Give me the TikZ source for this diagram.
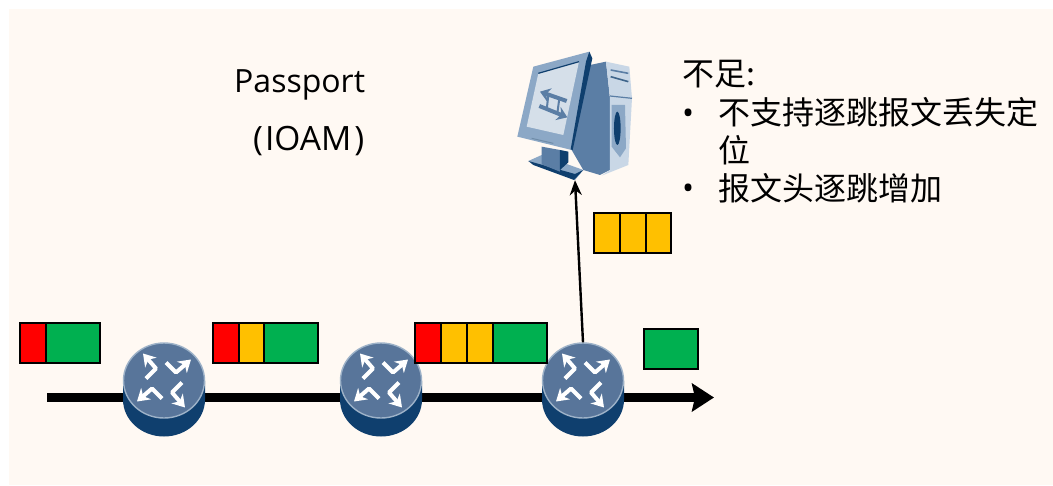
\documentclass[tikz,border=0pt]{standalone}
\usepackage{fontspec}
\setmainfont{Open Sans}
\newfontfamily\cjk{Noto Sans CJK SC}
\usetikzlibrary{arrows.meta}
\definecolor{paper}{HTML}{FFF9F3}
\definecolor{pktred}{HTML}{FF0000}
\definecolor{pktorange}{HTML}{FFC000}
\definecolor{pktgreen}{HTML}{00B050}
\definecolor{navy}{HTML}{0F3F6E}
\definecolor{slate}{HTML}{58759A}
\definecolor{rim}{HTML}{9DB2C8}
\definecolor{frame}{HTML}{8CA8C6}
\definecolor{screen}{HTML}{D5DFE9}
\definecolor{towerside}{HTML}{5B7EA5}
\definecolor{towerfront}{HTML}{C9D7E6}
\tikzset{
	seg/.style={draw=black, line width=1.5pt, outer sep=0pt, minimum height=40pt, inner sep=0pt, anchor=north west},
	redseg/.style={seg, fill=pktred, minimum width=26pt},
	orangeseg/.style={seg, fill=pktorange, minimum width=26pt},
	greenseg/.style={seg, fill=pktgreen, minimum width=54pt},
	routernode/.style={circle, minimum size=76pt, inner sep=0pt},
	label/.style={anchor=base west, inner sep=0pt, font=\fontsize{32}{38}\selectfont},
	router/.pic={
		\fill[navy] (-41,0) -- (-41,19) arc[x radius=41, y radius=37, start angle=180, end angle=0] -- (41,0) -- cycle;
		\fill[slate, draw=rim, line width=1.4pt] (0,0) ellipse[x radius=40.5, y radius=37.5];
		\foreach \rot in {0,90,180,270} {
			\draw[white, line width=4pt, line join=round, -{Stealth[length=12pt,width=15pt]}, rotate=\rot] (2,-18) -- (12,-8) -- (27,-21);
		}
	}
}
\begin{document}
\begin{tikzpicture}[x=1pt, y=-1pt]
	\useasboundingbox (0,0) rectangle (1053,485);
	\fill[paper] (9,9) rectangle (1053,485);
	% main line
	\coordinate (start) at (47,397.5);
	\coordinate (end) at (714,397.5);
	\draw[line width=8.5pt, -{Stealth[length=22pt,width=28pt,inset=3pt]}] (start) -- (end);
	% routers
	\foreach \name/\xpos in {r1/164, r2/381, r3/583} {
		\pic at (\xpos,380.5) {router};
		\node (\name)[routernode] at (\xpos,380.5) {};
	}
	% packets
	\node (a1)[redseg] at (20,323) {};
	\node (a2)[greenseg] at (46,323) {};
	\node (b1)[redseg] at (213,323) {};
	\node (b2)[orangeseg] at (239,323) {};
	\node (b3)[greenseg] at (264,323) {};
	\node (c1)[redseg] at (415,323) {};
	\node (c2)[orangeseg] at (441,323) {};
	\node (c3)[orangeseg] at (467,323) {};
	\node (c4)[greenseg] at (493,323) {};
	\node (d1)[greenseg] at (644,329) {};
	\node (e1)[orangeseg] at (594,213) {};
	\node (e2)[orangeseg] at (620,213) {};
	\node (e3)[orangeseg, minimum width=25pt] at (646,213) {};
	% computer
	\begin{scope}[shift={(500,30)}, x=0.3333pt, y=-0.3333pt]
		\fill[towerside] (270,105) -- (318,95) -- (330,205) -- (330,420) -- (300,435) -- (250,420) -- (215,360) -- cycle;
		\fill[towerfront] (318,95) -- (388,110) -- (396,205) -- (385,405) -- (305,437) -- (330,420) -- (330,205) -- cycle;
		\draw[towerside, line width=1.2pt] (330,198) -- (396,205);
		\draw[towerside, line width=1.6pt] (332,120) -- (385,130);
		\draw[navy!80, line width=1.6pt] (332,140) -- (385,155);
		\fill[frame] (335,225) -- (375,225) -- (378,355) -- (360,382) -- (335,350) -- cycle;
		\fill[navy] (352,295) ellipse[x radius=10, y radius=50];
		\fill[frame] (85,393) -- (125,375) -- (250,420) -- (225,450) -- cycle;
		\fill[navy] (85,393) -- (100,405) -- (222,450) -- (250,420) -- (225,432) -- cycle;
		\fill[towerside] (125,350) -- (180,360) -- (180,425) -- (125,403) -- cycle;
		\fill[navy] (180,360) -- (205,365) -- (205,397) -- (180,420) -- cycle;
		\fill[frame] (100,110) -- (268,65) -- (275,85) -- (215,360) -- (52,320) -- cycle;
		\fill[navy] (268,65) -- (277,85) -- (218,360) -- (212,358) -- (258,95) -- cycle;
		\fill[screen] (115,130) -- (237,95) -- (190,315) -- (80,290) -- cycle;
		\draw[navy, line width=1.2pt] (115,130) -- (237,95);
		\draw[towerside, line width=4pt, {Stealth[length=10pt,width=14pt]}-] (120,185) -- (200,213);
		\draw[towerside, line width=4pt, -{Stealth[length=10pt,width=14pt]}] (118,228) -- (202,262);
		\draw[towerside, line width=2pt] (145,195) -- (140,240) (178,205) -- (172,250);
		\draw[navy!60, line width=1pt] (95,325) -- (160,340);
	\end{scope}
	\node (pc)[minimum width=90pt, minimum height=130pt, inner sep=0pt] at (575,115) {};
	\draw[line width=2.4pt, -{Stealth[length=15pt,width=12pt]}] (r3.north) -- (pc.south);
	% text
	\node (t1)[label] at (234,92) {Passport};
	\node (t2)[label, font=\fontsize{33.5}{38}\selectfont] at (253,150) {(\kern2ptIOAM\kern3pt)};
	\node (n0)[label] at (682,85) {\cjk 不足:};
	\node (b1dot)[label] at (682,124) {•};
	\node (n1)[label] at (718,124) {\cjk 不支持逐跳报文丢失定};
	\node (n2)[label] at (718,162) {\cjk 位};
	\node (b2dot)[label] at (682,199) {•};
	\node (n3)[label] at (718,200) {\cjk 报文头逐跳增加};
\end{tikzpicture}
\end{document}
